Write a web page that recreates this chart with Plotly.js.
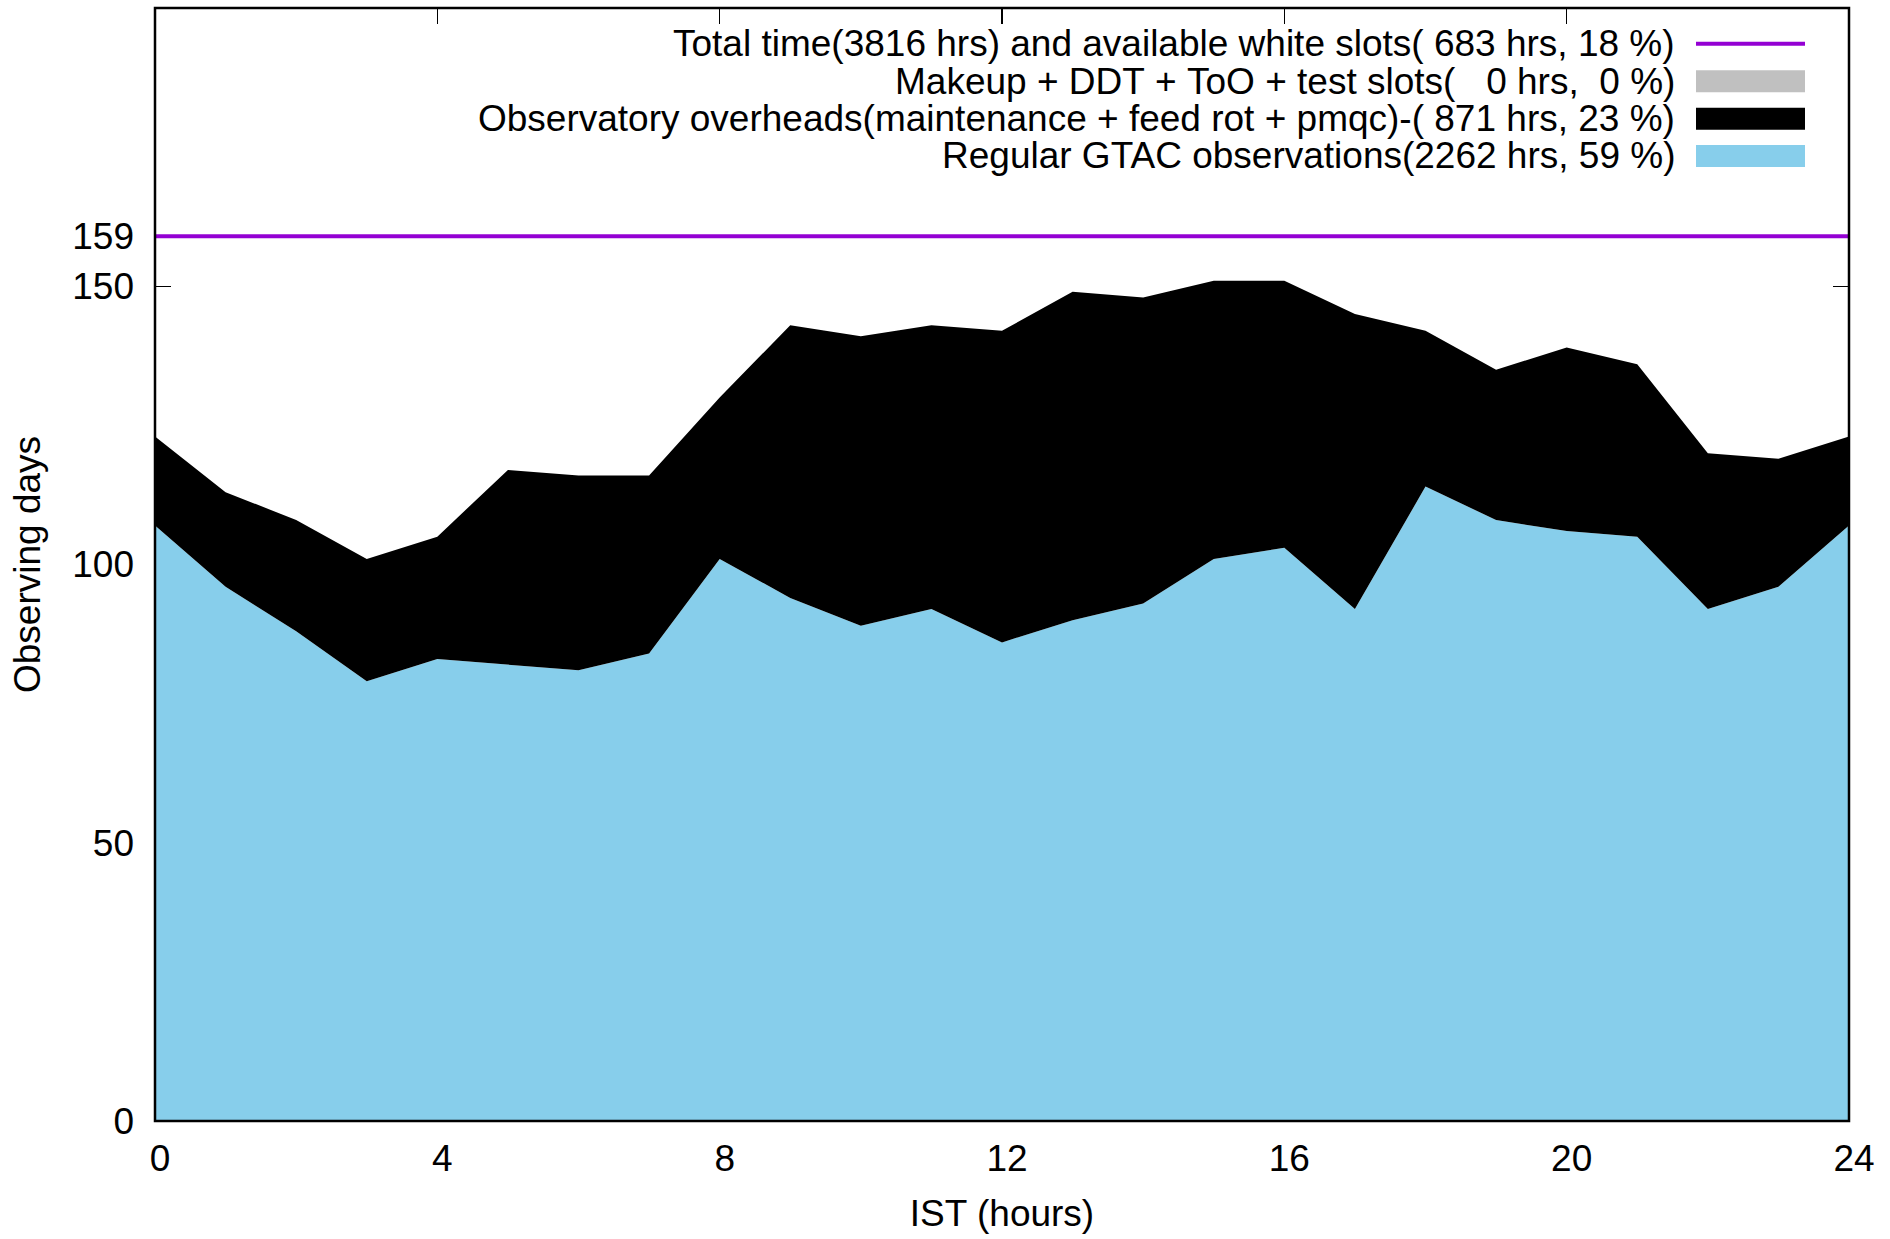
<!DOCTYPE html>
<html>
<head>
<meta charset="utf-8">
<script src="https://cdn.plot.ly/plotly-3.0.1.min.js"></script>
<style>
  html, body { margin: 0; padding: 0; background: #ffffff; }
  #chart { width: 1890px; height: 1239px; }
</style>
</head>
<body>
<div id="chart"></div>
<script>
// ---- data ----
const hours = [0, 1, 2, 3, 4, 5, 6, 7, 8, 9, 10, 11, 12, 13, 14, 15, 16, 17, 18, 19, 20, 21, 22, 23, 24];
const regularDays  = [107, 96, 88, 79, 83, 82, 81, 84, 101, 94, 89, 92, 86, 90, 93, 101, 103, 92, 114, 108, 106, 105, 92, 96, 107];
const makeupDays   = [0, 0, 0, 0, 0, 0, 0, 0, 0, 0, 0, 0, 0, 0, 0, 0, 0, 0, 0, 0, 0, 0, 0, 0, 0];
const overheadDays = [16, 17, 20, 22, 22, 35, 35, 32, 29, 49, 52, 51, 56, 59, 55, 50, 48, 53, 28, 27, 33, 31, 28, 23, 16];
const totalDays = 159;

const xTickVals = [0, 4, 8, 12, 16, 20, 24];
const yTickVals = [0, 50, 100, 150, 159];

const legendLabels = [
  "Total time(3816 hrs) and available white slots( 683 hrs, 18 %)",
  "Makeup + DDT + ToO + test slots(   0 hrs,  0 %)",
  "Observatory overheads(maintenance + feed rot + pmqc)-( 871 hrs, 23 %)",
  "Regular GTAC observations(2262 hrs, 59 %)"
];

// ---- styles ----
const COL_TOTAL = "#9400d3";
const COL_MAKEUP = "#c0c0c0";
const COL_OVER = "#000000";
const COL_REG = "#87ceeb";
const FONT = "Liberation Sans, Arial, sans-serif";
const FS = 37;
const FS_KEY = 37;

const W = 1890, H = 1239;
const M = { l: 155, r: 41, t: 8, b: 118 };
const PW = W - M.l - M.r, PH = H - M.t - M.b;
const px2x = px => (px - M.l) / PW;
const py2y = py => (H - M.b - py) / PH;

const traces = [
  {
    x: hours, y: regularDays, type: "scatter", mode: "lines",
    stackgroup: "s", fillcolor: COL_REG, line: { width: 0, color: COL_REG },
    name: legendLabels[3], showlegend: false, hoverinfo: "skip"
  },
  {
    x: hours, y: makeupDays, type: "scatter", mode: "lines",
    stackgroup: "s", fillcolor: COL_MAKEUP, line: { width: 0, color: COL_MAKEUP },
    name: legendLabels[1], showlegend: false, hoverinfo: "skip"
  },
  {
    x: hours, y: overheadDays, type: "scatter", mode: "lines",
    stackgroup: "s", fillcolor: COL_OVER, line: { width: 0, color: COL_OVER },
    name: legendLabels[2], showlegend: false, hoverinfo: "skip"
  },
  {
    x: [hours[0], hours[hours.length - 1]], y: [totalDays, totalDays],
    type: "scatter", mode: "lines", line: { width: 4, color: COL_TOTAL },
    name: legendLabels[0], showlegend: false, hoverinfo: "skip"
  }
];

// custom gnuplot-like key (text right, sample to the right of it)
const keyRowsY = [43.7, 81.3, 118.7, 156];
const keyTextRight = 1676;
const keySampleX0 = 1696, keySampleX1 = 1805;
const keyColors = [COL_TOTAL, COL_MAKEUP, COL_OVER, COL_REG];

const annotations = legendLabels.map((t, i) => ({
  xref: "paper", yref: "paper", x: px2x(keyTextRight), y: py2y(keyRowsY[i]),
  xanchor: "right", yanchor: "middle", showarrow: false, borderpad: 0,
  text: t.replace(/ /g, "&nbsp;"),
  font: { family: FONT, size: FS_KEY, color: "#000" }
}));

const shapes = [];
// total line sample
shapes.push({
  type: "line", xref: "paper", yref: "paper", layer: "above",
  x0: px2x(keySampleX0), x1: px2x(keySampleX1), y0: py2y(keyRowsY[0]), y1: py2y(keyRowsY[0]),
  line: { color: COL_TOTAL, width: 4 }
});
for (let i = 1; i < 4; i++) {
  shapes.push({
    type: "rect", xref: "paper", yref: "paper", layer: "above",
    x0: px2x(keySampleX0), x1: px2x(keySampleX1),
    y0: py2y(keyRowsY[i] - 11), y1: py2y(keyRowsY[i] + 11),
    fillcolor: keyColors[i], line: { width: 0 }
  });
}
// border on top
shapes.push({
  type: "rect", xref: "paper", yref: "paper", layer: "above",
  x0: 0, x1: 1, y0: 0, y1: 1, line: { color: "#000", width: 2.5 }, fillcolor: "rgba(0,0,0,0)"
});

const layout = {
  width: W, height: H,
  margin: M,
  paper_bgcolor: "#ffffff", plot_bgcolor: "#ffffff",
  font: { family: FONT, size: FS, color: "#000" },
  showlegend: false,
  xaxis: {
    range: [0, 24], tickvals: xTickVals, ticktext: xTickVals.map(String),
    ticks: "inside", ticklen: 16, tickwidth: 1.2, tickcolor: "#000",
    mirror: "ticks", showline: false, showgrid: false, zeroline: false,
    layer: "below traces", ticklabelstandoff: 12, ticklabelshift: 5,
    tickfont: { family: FONT, size: FS, color: "#000" },
    title: { text: "IST (hours)", font: { family: FONT, size: FS, color: "#000" }, standoff: 22 }
  },
  yaxis: {
    range: [0, 200], tickvals: yTickVals, ticktext: yTickVals.map(String),
    ticks: "inside", ticklen: 16, tickwidth: 1.2, tickcolor: "#000",
    mirror: "ticks", showline: false, showgrid: false, zeroline: false,
    layer: "below traces", ticklabelstandoff: 20,
    tickfont: { family: FONT, size: FS, color: "#000" },
    title: { text: "Observing days", font: { family: FONT, size: FS, color: "#000" }, standoff: 20 }
  },
  annotations: annotations,
  shapes: shapes
};

Plotly.newPlot("chart", traces, layout, { staticPlot: true, displayModeBar: false });
</script>
</body>
</html>
